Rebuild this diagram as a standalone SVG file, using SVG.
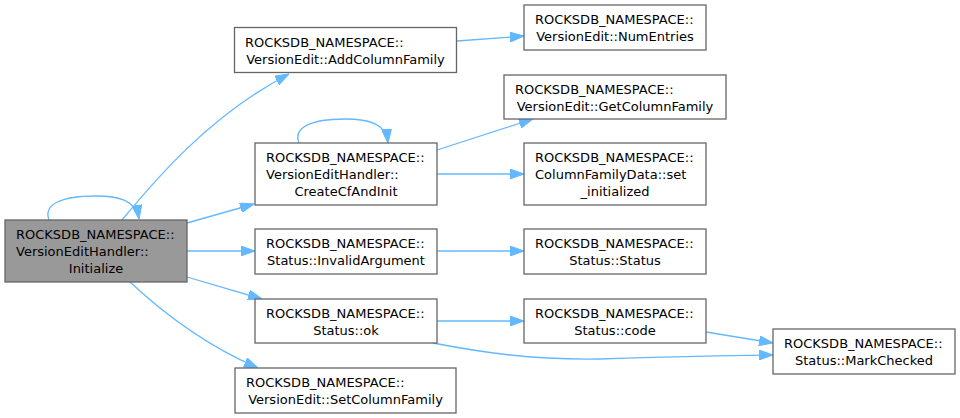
<svg xmlns="http://www.w3.org/2000/svg" width="960" height="418" viewBox="0 0 960 418">
<defs>
<marker id="ah" viewBox="0 0 14 10" refX="14" refY="5" markerWidth="14" markerHeight="10" markerUnits="userSpaceOnUse" orient="auto">
<path d="M0,0 L14,5 L0,10 z" fill="#63b8ff" stroke="#63b8ff" stroke-width="1"/>
</marker>
</defs>
<style>
.n rect{fill:#ffffff;stroke:#666666;stroke-width:1.3}
#n0 rect{fill:#999999}
text{font-family:"DejaVu Sans",sans-serif;font-size:13px;fill:#000000}
.m{text-anchor:middle}
.e path{fill:none;stroke:#63b8ff;stroke-width:1.3;marker-end:url(#ah)}
</style>
<rect width="960" height="418" fill="#ffffff"/>
<g class="e" id="edges">
<path d="M49,220 C43,204 62,196 96,196 C118,196 136,200 139,219"/>
<path d="M122,220 C155,180 210,115 289,74"/>
<path d="M187,223 L254,204"/>
<path d="M187,251 L255,251"/>
<path d="M187,277 L262,299"/>
<path d="M130,282 C160,310 205,345 258,368"/>
<path d="M457,41 L524,36"/>
<path d="M299,143 C293,128 310,119 345,119 C370,119 386,124 388,143"/>
<path d="M437,150 L533,119"/>
<path d="M437,174 L524,174"/>
<path d="M437,251 L524,251"/>
<path d="M437,321 L524,321"/>
<path d="M433,343 C480,352 530,360 600,359 C660,357 720,355 773,355"/>
<path d="M706,332 L773,343"/>
</g>
<g class="n" id="n0">
<rect x="5" y="220" width="182" height="62"/>
<text x="16" y="238.5">ROCKSDB_NAMESPACE::</text>
<text x="16" y="255.5">VersionEditHandler::</text>
<text class="m" x="96" y="272.5">Initialize</text>
</g>
<g class="n" id="n1">
<rect x="234.5" y="27.5" width="222" height="45"/>
<text x="245" y="46.5">ROCKSDB_NAMESPACE::</text>
<text class="m" x="345.5" y="63.5">VersionEdit::AddColumnFamily</text>
</g>
<g class="n" id="n2">
<rect x="524" y="5" width="182" height="45"/>
<text x="535" y="24">ROCKSDB_NAMESPACE::</text>
<text class="m" x="615" y="41">VersionEdit::NumEntries</text>
</g>
<g class="n" id="n3">
<rect x="504" y="75" width="222" height="44"/>
<text x="515" y="93.5">ROCKSDB_NAMESPACE::</text>
<text class="m" x="615" y="110.5">VersionEdit::GetColumnFamily</text>
</g>
<g class="n" id="n4">
<rect x="255" y="143" width="182" height="62"/>
<text x="266" y="161.5">ROCKSDB_NAMESPACE::</text>
<text x="266" y="178.5">VersionEditHandler::</text>
<text class="m" x="346" y="195.5">CreateCfAndInit</text>
</g>
<g class="n" id="n5">
<rect x="524" y="143" width="182" height="62"/>
<text x="535" y="161.5">ROCKSDB_NAMESPACE::</text>
<text x="535" y="178.5">ColumnFamilyData::set</text>
<text class="m" x="615" y="195.5">_initialized</text>
</g>
<g class="n" id="n6">
<rect x="255" y="229" width="182" height="45"/>
<text x="266" y="248">ROCKSDB_NAMESPACE::</text>
<text class="m" x="346" y="265">Status::InvalidArgument</text>
</g>
<g class="n" id="n7">
<rect x="524" y="229" width="182" height="45"/>
<text x="535" y="248">ROCKSDB_NAMESPACE::</text>
<text class="m" x="615" y="265">Status::Status</text>
</g>
<g class="n" id="n8">
<rect x="255" y="299" width="182" height="44"/>
<text x="266" y="317.5">ROCKSDB_NAMESPACE::</text>
<text class="m" x="346" y="334.5">Status::ok</text>
</g>
<g class="n" id="n9">
<rect x="524" y="299" width="182" height="44"/>
<text x="535" y="317.5">ROCKSDB_NAMESPACE::</text>
<text class="m" x="615" y="334.5">Status::code</text>
</g>
<g class="n" id="n10">
<rect x="235" y="368" width="221" height="45"/>
<text x="246" y="387">ROCKSDB_NAMESPACE::</text>
<text class="m" x="345.5" y="404">VersionEdit::SetColumnFamily</text>
</g>
<g class="n" id="n11">
<rect x="773" y="329" width="182" height="45"/>
<text x="784" y="348">ROCKSDB_NAMESPACE::</text>
<text class="m" x="864" y="365">Status::MarkChecked</text>
</g>
</svg>
